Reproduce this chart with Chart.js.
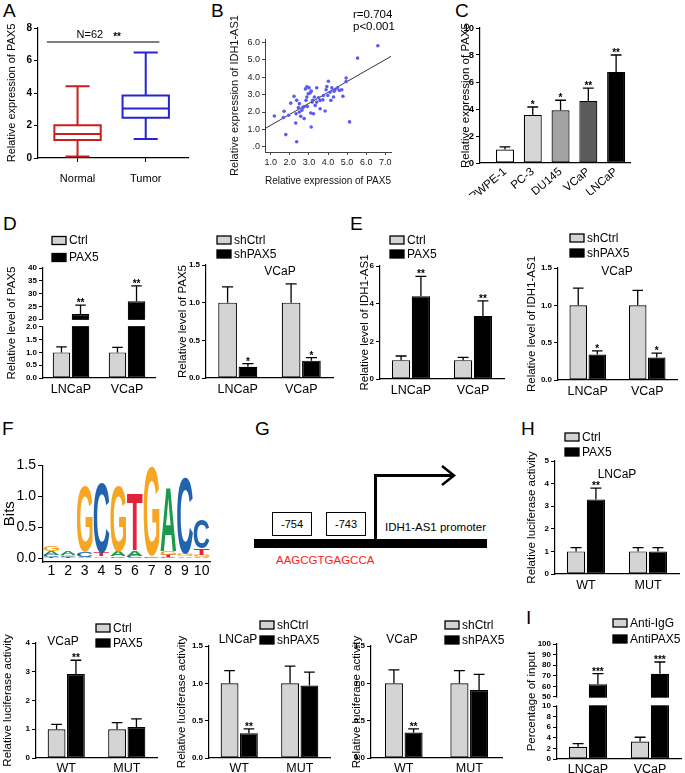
<!DOCTYPE html>
<html lang="en">
<head>
<meta charset="utf-8">
<title>PAX5 / IDH1-AS1</title>
<script src="https://cdn.jsdelivr.net/npm/chart.js@4.4.1/dist/chart.umd.min.js"></script>
<style>
  body { margin: 0; background: #fff; }
  #fig { position: relative; width: 685px; height: 773px; overflow: hidden;
         font-family: 'Liberation Sans', Arial, sans-serif; color: #000; }
  #fig canvas { position: absolute; }
  .tag { position: absolute; font-size: 19px; line-height: 19px; }
  .site { position: absolute; width: 38px; height: 22px; border: 1.5px solid #000;
          font-size: 11px; line-height: 22px; text-align: center; }
  .txt { position: absolute; font-size: 11.5px; line-height: 13px; white-space: nowrap; }
</style>
</head>
<body>
<div id="fig">
  <div class="tag" style="left:3px;top:1px">A</div>
  <div class="tag" style="left:211px;top:1px">B</div>
  <div class="tag" style="left:455px;top:1px">C</div>
  <div class="tag" style="left:3px;top:214px">D</div>
  <div class="tag" style="left:350px;top:214px">E</div>
  <div class="tag" style="left:2px;top:419px">F</div>
  <div class="tag" style="left:255px;top:419px">G</div>
  <div class="tag" style="left:521px;top:419px">H</div>
  <div class="tag" style="left:526px;top:608px">I</div>

  <canvas id="cA"></canvas>
  <canvas id="cB"></canvas>
  <canvas id="cC"></canvas>
  <canvas id="cD1"></canvas>
  <canvas id="cD2"></canvas>
  <canvas id="cE1"></canvas>
  <canvas id="cE2"></canvas>
  <canvas id="cF"></canvas>
  <canvas id="cH"></canvas>
  <canvas id="cL1"></canvas>
  <canvas id="cL2"></canvas>
  <canvas id="cL3"></canvas>
  <canvas id="cI"></canvas>

  <!-- G: promoter sketch -->
  <svg style="position:absolute;left:250px;top:460px" width="245" height="95">
    <rect x="4" y="79" width="233" height="9" fill="#000"/>
    <polyline points="125.5,80 125.5,15.5 204,15.5" fill="none" stroke="#000" stroke-width="3"/>
    <polyline points="192,6 204,15.5 192,25" fill="none" stroke="#000" stroke-width="2.5"/>
  </svg>
  <div class="site" style="left:272px;top:512px">-754</div>
  <div class="site" style="left:326px;top:512px">-743</div>
  <div class="txt" style="left:385px;top:521px">IDH1-AS1 promoter</div>
  <div class="txt" style="left:276px;top:554px;color:#ff1a1a">AAGCGTGAGCCA</div>
</div>

<script>
// ---------- data ----------

// A: PAX5 in normal vs tumour tissue (box plot)
const boxGroups = ['Normal', 'Tumor'];
const boxColors = ['#c81f1e', '#2424d2'];
const boxMin = [0.1, 1.17];
const boxQ1 = [1.11, 2.48];
const boxMedian = [1.48, 3.04];
const boxQ3 = [2.01, 3.84];
const boxMax = [4.41, 6.5];
const sampleSize = 62;
const bracketLevel = 7.14;
const aTicks = [0, 2, 4, 6, 8];

// B: correlation PAX5 vs IDH1-AS1
const pax5Expr = [6.61, 5.55, 4.95, 4.95, 5.13, 4.72, 4.78, 4.60, 4.32, 4.20, 4.11, 4.02, 3.94, 3.90, 3.99,
  4.15, 3.85, 3.73, 3.59, 3.50, 3.41, 3.29, 3.20, 3.17, 3.12, 3.06, 3.01, 2.96, 2.82, 2.85, 2.92, 3.10,
  3.24, 3.12, 2.75, 2.68, 2.63, 2.75, 2.57, 2.50, 2.45, 2.36, 2.22, 2.33, 2.31, 2.36, 2.05, 1.94, 1.70,
  1.66, 1.79, 1.19, 2.90, 3.59, 3.33, 4.29, 4.37, 3.76, 2.89, 2.50, 3.41, 4.50];
const idh1Expr = [5.81, 5.10, 3.96, 3.75, 1.43, 3.28, 2.91, 3.24, 3.20, 3.39, 3.14, 3.77, 3.47, 3.28, 2.95,
  2.67, 2.06, 2.70, 2.67, 2.82, 3.39, 2.86, 2.67, 2.57, 3.20, 3.09, 3.39, 3.05, 3.33, 2.67, 2.32, 1.94,
  1.90, 1.14, 2.32, 2.25, 2.10, 1.62, 1.75, 2.48, 2.25, 2.67, 2.90, 1.90, 1.37, 0.29, 2.51, 1.81, 2.04,
  1.68, 0.70, 1.77, 3.45, 2.19, 2.38, 2.86, 3.28, 2.95, 2.86, 2.00, 2.57, 3.39];
const fitX = [0.7, 7.3];
const fitY = [1.05, 5.2];
const bTicksX = [1, 2, 3, 4, 5, 6, 7];
const bTicksY = [0, 1, 2, 3, 4, 5, 6];

// C: PAX5 in cell lines
const cellLines = ['RWPE-1', 'PC-3', 'DU145', 'VCaP', 'LNCaP'];
const cellPax5 = [1.0, 3.55, 3.9, 4.6, 6.75];
const cellPax5Err = [1.2, 4.15, 4.65, 5.55, 8.0];
const cellStars = ['', '*', '*', '**', '**'];
const cellColors = ['#ffffff', '#d6d6d6', '#a3a3a3', '#5a5a5a', '#000000'];
const cTicks = [0, 2, 4, 6, 8, 10];

// D / E: two cell lines
const lines2 = ['LNCaP', 'VCaP'];
const dCtrl = [1.0, 1.0];
const dCtrlErr = [1.22, 1.2];
const dPax5 = [22, 27];
const dPax5Err = [25.5, 33];
const dTicks = [0, 0.5, 1, 1.5, 2, 20, 25, 30, 35, 40];
const dTickText = ['0.0', '0.5', '1.0', '1.5', '2.0', '20', '25', '30', '35', '40'];

const d2Ctrl = [1.0, 1.0];
const d2CtrlErr = [1.21, 1.25];
const d2Sh = [0.15, 0.23];
const d2ShErr = [0.19, 0.27];

const eCtrl = [1.0, 1.0];
const eCtrlErr = [1.22, 1.15];
const ePax5 = [4.4, 3.35];
const ePax5Err = [5.45, 4.15];
const eTicks = [0, 2, 4, 6];

const e2Ctrl = [1.0, 1.0];
const e2CtrlErr = [1.23, 1.2];
const e2Sh = [0.34, 0.3];
const e2ShErr = [0.39, 0.36];

const halfTicks = [0, 0.5, 1, 1.5];

// F: motif logo (letters bottom -> top, heights in bits)
const logoPos = ['1', '2', '3', '4', '5', '6', '7', '8', '9', '10'];
const logoLetters = [
  ['T', 'C', 'A', 'G'], ['T', 'C', 'G', 'A'], ['T', 'A', 'C', 'G'], ['A', 'G', 'T', 'C'], ['T', 'C', 'A', 'G'],
  ['G', 'C', 'A', 'T'], ['A', 'T', 'C', 'G'], ['C', 'T', 'G', 'A'], ['T', 'A', 'G', 'C'], ['A', 'G', 'T', 'C']
];
const logoBits = [
  [0.02, 0.03, 0.07, 0.08], [0.02, 0.02, 0.02, 0.06], [0.01, 0.01, 0.08, 1.07], [0.01, 0.02, 0.06, 1.13],
  [0.01, 0.02, 0.08, 1.06], [0.01, 0.03, 0.09, 0.92], [0.0, 0.01, 0.02, 1.45], [0.02, 0.04, 0.06, 1.02],
  [0.01, 0.02, 0.03, 1.24], [0.02, 0.04, 0.1, 0.47]
];
const logoColors = { A: '#1a9a4a', C: '#2164ad', G: '#f6a623', T: '#e2243b' };
const fTicks = [0, 0.5, 1, 1.5];

// H and luciferase row
const constructs = ['WT', 'MUT'];
const hCtrl = [1.0, 1.0];
const hCtrlErr = [1.17, 1.17];
const hPax5 = [3.3, 1.0];
const hPax5Err = [3.8, 1.17];
const hTicks = [0, 1, 2, 3, 4, 5];

const l1Ctrl = [1.0, 1.0];
const l1CtrlErr = [1.17, 1.23];
const l1Pax5 = [2.92, 1.08];
const l1Pax5Err = [3.4, 1.36];
const l1Ticks = [0, 1, 2, 3, 4];

const l2Ctrl = [1.0, 1.0];
const l2CtrlErr = [1.17, 1.23];
const l2Sh = [0.33, 0.97];
const l2ShErr = [0.39, 1.15];

const l3Ctrl = [1.0, 1.0];
const l3CtrlErr = [1.18, 1.17];
const l3Sh = [0.34, 0.91];
const l3ShErr = [0.39, 1.12];

// I: ChIP
const iIgG = [2.3, 3.3];
const iIgGErr = [2.9, 4.1];
const iPax5 = [62, 72];
const iPax5Err = [72, 83];
const iTicks = [0, 2, 4, 6, 8, 10, 50, 60, 70, 80, 90, 100];

// ---------- helpers ----------
const LS = "'Liberation Sans', Arial, sans-serif";
Chart.defaults.font.family = LS;
Chart.defaults.color = '#000';
Chart.defaults.animation = false;
Chart.defaults.events = [];

const GREY = '#d4d4d4';
const BLACK = '#000000';

// broken axes: lower part kept, upper part compressed
const fD = v => v <= 2 ? v : 2.3 + (v - 20) * 0.1;
const fI = v => v <= 10 ? v : 11.7 + (v - 50) * 0.2;

const deco = {
  id: 'deco',
  afterDatasetsDraw(chart, args, o) {
    const ctx = chart.ctx, y = chart.scales.y, a = chart.chartArea;
    const ox = o.ox || 0, oy = o.oy || 0;
    ctx.save();
    if (o.brk) {
      const top = y.getPixelForValue(o.brk[1]), bot = y.getPixelForValue(o.brk[0]);
      ctx.fillStyle = '#fff';
      ctx.fillRect(a.left - 2, top + 0.7, a.right - a.left + 4, bot - top - 1.4);
    }
    chart.data.datasets.forEach((ds, i) => {
      if (!ds.err) return;
      chart.getDatasetMeta(i).data.forEach((bar, j) => {
        const top = y.getPixelForValue(ds.err[j]);
        const cap = bar.width * 0.3;
        ctx.strokeStyle = '#000';
        ctx.lineWidth = 1.3;
        ctx.beginPath();
        ctx.moveTo(bar.x, bar.y);
        ctx.lineTo(bar.x, top);
        ctx.moveTo(bar.x - cap, top);
        ctx.lineTo(bar.x + cap, top);
        ctx.stroke();
        if (ds.stars && ds.stars[j]) {
          ctx.fillStyle = '#000';
          ctx.font = `bold 10px ${LS}`;
          ctx.textAlign = 'center';
          ctx.textBaseline = 'alphabetic';
          ctx.fillText(ds.stars[j], bar.x, top + 1);
        }
      });
    });
    if (o.key) {
      ctx.font = `12px ${LS}`;
      ctx.textAlign = 'left';
      ctx.textBaseline = 'middle';
      chart.data.datasets.forEach((ds, i) => {
        const bx = o.key.x - ox, by = o.key.y + i * o.key.gap - oy;
        ctx.fillStyle = ds.backgroundColor;
        ctx.fillRect(bx, by - 4, 14, 8);
        ctx.strokeStyle = '#000';
        ctx.lineWidth = 1.3;
        ctx.strokeRect(bx, by - 4, 14, 8);
        ctx.fillStyle = '#000';
        ctx.fillText(ds.label, bx + 17, by + 0.5);
      });
    }
    (o.notes || []).forEach(n => {
      ctx.font = `${n.size || 12}px ${LS}`;
      ctx.fillStyle = '#000';
      ctx.textAlign = n.align || 'center';
      ctx.textBaseline = 'middle';
      ctx.fillText(n.text, n.x - ox, n.y - oy);
    });
    ctx.restore();
  }
};
Chart.register(deco);

// put a chart so that its plot area lands on area = [x0, y0, x1, y1] (page px)
function place(id, box, area, config) {
  const cv = document.getElementById(id);
  const [l, t, w, h] = box;
  cv.width = w;
  cv.height = h;
  Object.assign(cv.style, { left: l + 'px', top: t + 'px', width: w + 'px', height: h + 'px' });
  const o = config.options;
  o.responsive = false;
  o.maintainAspectRatio = false;
  o.layout = { padding: { left: 0, top: area[1] - t, right: l + w - area[2], bottom: 0 } };
  o.scales.x.afterFit = s => { s.height = t + h - area[3]; };
  o.scales.y.afterFit = s => { s.width = area[0] - l; };
  o.plugins = o.plugins || {};
  o.plugins.legend = { display: false };
  o.plugins.tooltip = { enabled: false };
  o.plugins.deco = Object.assign({ ox: l, oy: t }, o.plugins.deco || {});
  return new Chart(cv, config);
}

function yLin(a) {
  return {
    type: 'linear', min: a.min, max: a.max,
    afterBuildTicks: s => { s.ticks = a.vals.map(v => ({ value: v })); },
    ticks: { autoSkip: false, callback: (v, i) => a.text[i], font: { size: a.fs || 8, weight: a.weight || 'bold' },
             padding: 2, color: '#000' },
    grid: { drawOnChartArea: false, tickLength: a.tl || 4, color: '#000', lineWidth: 1 },
    border: { color: '#000', width: 1.2 },
    title: { display: true, text: a.title, font: { size: a.tfs || 11.5 }, padding: 0, color: '#000' }
  };
}

function xCat(fs, pad) {
  return {
    type: 'category', offset: true,
    grid: { display: false, drawTicks: false },
    border: { color: '#000', width: 1.2 },
    ticks: { font: { size: fs }, padding: pad, color: '#000', autoSkip: false, maxRotation: 0 }
  };
}

function bars(id, box, area, cats, sets, yax, deco, shape) {
  shape = Object.assign({ cat: 0.64, bar: 0.92, xfs: 12.5, xpad: 4 }, shape);
  return place(id, box, area, {
    type: 'bar',
    data: {
      labels: cats,
      datasets: sets.map(s => ({
        label: s.label, data: s.data, err: s.err, stars: s.stars,
        backgroundColor: s.color, borderColor: '#000', borderWidth: 1.2, borderSkipped: false,
        categoryPercentage: shape.cat, barPercentage: shape.bar
      }))
    },
    options: {
      scales: { x: xCat(shape.xfs, shape.xpad), y: yLin(yax) },
      plugins: { deco }
    }
  });
}

// ---------- A: box plot ----------
const boxPlot = {
  id: 'boxPlot',
  afterDatasetsDraw(chart) {
    const { ctx, scales: { x, y } } = chart;
    ctx.save();
    ctx.lineWidth = 2;
    boxGroups.forEach((g, i) => {
      const cx = x.getPixelForValue(i + 1);
      const hw = x.getPixelForValue(i + 1.34) - cx;
      const cw = hw * 0.52;
      const [lo, q1, md, q3, hi] = [boxMin[i], boxQ1[i], boxMedian[i], boxQ3[i], boxMax[i]]
        .map(v => y.getPixelForValue(v));
      ctx.strokeStyle = boxColors[i];
      ctx.beginPath();
      ctx.rect(cx - hw, q3, hw * 2, q1 - q3);
      ctx.moveTo(cx - hw, md); ctx.lineTo(cx + hw, md);
      ctx.moveTo(cx, q3); ctx.lineTo(cx, hi);
      ctx.moveTo(cx, q1); ctx.lineTo(cx, lo);
      ctx.moveTo(cx - cw, hi); ctx.lineTo(cx + cw, hi);
      ctx.moveTo(cx - cw, lo); ctx.lineTo(cx + cw, lo);
      ctx.stroke();
    });
    const by = y.getPixelForValue(bracketLevel);
    ctx.strokeStyle = '#000';
    ctx.lineWidth = 1.2;
    ctx.beginPath();
    ctx.moveTo(x.getPixelForValue(0.55), by);
    ctx.lineTo(x.getPixelForValue(2.2), by);
    ctx.stroke();
    ctx.fillStyle = '#000';
    ctx.textAlign = 'center';
    ctx.textBaseline = 'alphabetic';
    ctx.font = `11px ${LS}`;
    ctx.fillText('N=' + sampleSize, x.getPixelForValue(1.18), by - 4);
    ctx.font = `bold 10px ${LS}`;
    ctx.fillText('**', x.getPixelForValue(1.58), by - 2);
    ctx.restore();
  }
};

place('cA', [5, 18, 200, 176], [38, 28, 188, 158], {
  type: 'scatter',
  data: { datasets: [{ data: boxMedian.map((m, i) => ({ x: i + 1, y: m })), pointRadius: 0 }] },
  options: {
    scales: {
      x: {
        type: 'linear', min: 0.42, max: 2.62,
        afterBuildTicks: s => { s.ticks = boxGroups.map((g, i) => ({ value: i + 1 })); },
        ticks: { callback: v => boxGroups[v - 1], font: { size: 11 }, padding: 10, color: '#000' },
        grid: { drawOnChartArea: false, tickLength: 4, color: '#000' },
        border: { color: '#000', width: 1.2 }
      },
      y: yLin({ min: 0, max: 8, vals: aTicks, text: aTicks.map(String), fs: 10, tfs: 11,
                title: 'Relative expression of PAX5' })
    }
  },
  plugins: [boxPlot]
});

// ---------- B: scatter ----------
function spss(min, max, vals, fmt, title) {
  return {
    type: 'linear', min, max,
    afterBuildTicks: s => { s.ticks = vals.map(v => ({ value: v })); },
    ticks: { callback: fmt, font: { size: 9 }, color: '#222', padding: 2, autoSkip: false },
    grid: { drawOnChartArea: false, tickLength: 3, color: '#444' },
    border: { color: '#444', width: 1 },
    title: { display: true, text: title, font: { size: 11 }, padding: 0, color: '#111' }
  };
}

place('cB', [228, 5, 170, 183], [265, 39, 391, 152], {
  type: 'scatter',
  data: {
    datasets: [
      { data: pax5Expr.map((v, i) => ({ x: v, y: idh1Expr[i] })), pointRadius: 1.8,
        pointBackgroundColor: '#5b5bf2', pointBorderWidth: 0 },
      { type: 'line', data: fitX.map((v, i) => ({ x: v, y: fitY[i] })), borderColor: '#333',
        borderWidth: 1, pointRadius: 0 }
    ]
  },
  options: {
    scales: {
      x: spss(0.7, 7.3, bTicksX, v => v.toFixed(1), 'Relative expression of PAX5'),
      y: spss(-0.3, 6.2, bTicksY, v => v === 0 ? '.0' : v.toFixed(1), 'Relative expression of IDH1-AS1')
    },
    plugins: { deco: { notes: [
      { text: 'r=0.704', x: 353, y: 15, align: 'left', size: 11.5 },
      { text: 'p<0.001', x: 353, y: 27, align: 'left', size: 11.5 }
    ] } }
  }
});

// ---------- C: cell lines ----------
place('cC', [459, 5, 200, 190], [480, 28, 630, 163], {
  type: 'bar',
  data: {
    datasets: [{
      data: cellPax5.map((v, i) => ({ x: i + 1, y: v })),
      err: cellPax5Err, stars: cellStars,
      backgroundColor: cellColors, borderColor: '#000', borderWidth: 1.2, borderSkipped: false,
      barPercentage: 0.9, categoryPercentage: 0.72
    }]
  },
  options: {
    scales: {
      x: {
        type: 'linear', offset: false, min: 0.1, max: 5.5,
        afterBuildTicks: s => { s.ticks = cellLines.map((c, i) => ({ value: i + 1 })); },
        ticks: { callback: v => cellLines[v - 1], autoSkip: false, minRotation: 40, maxRotation: 40,
                 font: { size: 11.5 }, padding: 2, color: '#000' },
        grid: { display: false, drawTicks: false },
        border: { color: '#000', width: 1.2 }
      },
      y: yLin({ min: 0, max: 10, vals: cTicks, text: cTicks.map(String), fs: 9.5,
                title: 'Relative expression of PAX5' })
    }
  }
});

// ---------- D ----------
bars('cD1', [5, 230, 165, 172], [43, 268, 155, 378], lines2, [
  { label: 'Ctrl', data: dCtrl, err: dCtrlErr, color: GREY },
  { label: 'PAX5', data: dPax5.map(fD), err: dPax5Err.map(fD), stars: ['**', '**'], color: BLACK }
], { min: 0, max: fD(40), vals: dTicks.map(fD), text: dTickText, title: 'Relative level of PAX5' },
{ key: { x: 52, y: 240.5, gap: 17 }, brk: [2, 2.3] }, { cat: 0.68 });

bars('cD2', [176, 230, 165, 172], [206, 265, 333, 378], lines2, [
  { label: 'shCtrl', data: d2Ctrl, err: d2CtrlErr, color: GREY },
  { label: 'shPAX5', data: d2Sh, err: d2ShErr, stars: ['*', '*'], color: BLACK }
], { min: 0, max: 1.5, vals: halfTicks, text: halfTicks.map(v => v.toFixed(1)), title: 'Relative level of PAX5' },
{ key: { x: 217, y: 240, gap: 14 }, notes: [{ text: 'VCaP', x: 280, y: 272 }] });

// ---------- E ----------
bars('cE1', [358, 230, 155, 172], [380, 266, 504, 379], lines2, [
  { label: 'Ctrl', data: eCtrl, err: eCtrlErr, color: GREY },
  { label: 'PAX5', data: ePax5, err: ePax5Err, stars: ['**', '**'], color: BLACK }
], { min: 0, max: 6, vals: eTicks, text: eTicks.map(String), title: 'Relative level of IDH1-AS1' },
{ key: { x: 390, y: 240, gap: 14 } });

bars('cE2', [525, 228, 160, 174], [558, 268, 677, 380], lines2, [
  { label: 'shCtrl', data: e2Ctrl, err: e2CtrlErr, color: GREY },
  { label: 'shPAX5', data: e2Sh, err: e2ShErr, stars: ['*', '*'], color: BLACK }
], { min: 0, max: 1.5, vals: halfTicks, text: halfTicks.map(v => v.toFixed(1)), title: 'Relative level of IDH1-AS1' },
{ key: { x: 570, y: 238, gap: 15 }, notes: [{ text: 'VCaP', x: 617, y: 272 }] });

// ---------- F: sequence logo ----------
const logoDraw = {
  id: 'logoDraw',
  afterDatasetsDraw(chart) {
    const ctx = chart.ctx;
    ctx.save();
    ctx.font = `bold 100px ${LS}`;
    ctx.textAlign = 'left';
    ctx.textBaseline = 'alphabetic';
    chart.data.datasets.forEach((ds, k) => {
      chart.getDatasetMeta(k).data.forEach((bar, j) => {
        const letter = logoLetters[j][k];
        const h = bar.base - bar.y;
        if (h < 0.4) return;
        const m = ctx.measureText(letter);
        const gw = m.actualBoundingBoxLeft + m.actualBoundingBoxRight;
        const gh = m.actualBoundingBoxAscent + m.actualBoundingBoxDescent;
        ctx.save();
        ctx.translate(bar.x - bar.width / 2, bar.y);
        ctx.scale(bar.width / gw, h / gh);
        ctx.fillStyle = logoColors[letter];
        ctx.fillText(letter, m.actualBoundingBoxLeft, m.actualBoundingBoxAscent);
        ctx.restore();
      });
    });
    ctx.restore();
  }
};

place('cF', [1, 455, 225, 130], [43, 465, 210, 562], {
  type: 'bar',
  data: {
    labels: logoPos,
    datasets: [0, 1, 2, 3].map(k => ({
      data: logoBits.map(b => b[k]), backgroundColor: 'rgba(0,0,0,0)', borderWidth: 0,
      barPercentage: 1, categoryPercentage: 0.94
    }))
  },
  options: {
    scales: {
      x: Object.assign(xCat(14, 1), { stacked: true }),
      y: Object.assign(yLin({ min: -0.06, max: 1.5, vals: fTicks, text: fTicks.map(v => v.toFixed(1)),
                              fs: 14, weight: 'normal', tl: 5, tfs: 15, title: 'Bits' }), { stacked: true })
    }
  },
  plugins: [logoDraw]
});

// ---------- H ----------
bars('cH', [525, 428, 160, 170], [555, 461, 679, 574], constructs, [
  { label: 'Ctrl', data: hCtrl, err: hCtrlErr, color: GREY },
  { label: 'PAX5', data: hPax5, err: hPax5Err, stars: ['**', ''], color: BLACK }
], { min: 0, max: 5, vals: hTicks, text: hTicks.map(String), title: 'Relative luciferase activity' },
{ key: { x: 565, y: 437, gap: 15 }, notes: [{ text: 'LNCaP', x: 617, y: 475 }] });

// ---------- luciferase row ----------
bars('cL1', [1, 615, 170, 158], [36, 643, 157, 758], constructs, [
  { label: 'Ctrl', data: l1Ctrl, err: l1CtrlErr, color: GREY },
  { label: 'PAX5', data: l1Pax5, err: l1Pax5Err, stars: ['**', ''], color: BLACK }
], { min: 0, max: 4, vals: l1Ticks, text: l1Ticks.map(String), title: 'Relative luciferase activity' },
{ key: { x: 96, y: 628, gap: 15 }, notes: [{ text: 'VCaP', x: 63, y: 642 }] }, { xpad: 3 });

bars('cL2', [175, 615, 170, 158], [209, 646, 330, 758], constructs, [
  { label: 'shCtrl', data: l2Ctrl, err: l2CtrlErr, color: GREY },
  { label: 'shPAX5', data: l2Sh, err: l2ShErr, stars: ['**', ''], color: BLACK }
], { min: 0, max: 1.5, vals: halfTicks, text: halfTicks.map(v => v.toFixed(1)), title: 'Relative luciferase activity' },
{ key: { x: 260, y: 625, gap: 15 }, notes: [{ text: 'LNCaP', x: 238, y: 640 }] }, { xpad: 3 });

bars('cL3', [350, 615, 170, 158], [371, 646, 502, 758], constructs, [
  { label: 'shCtrl', data: l3Ctrl, err: l3CtrlErr, color: GREY },
  { label: 'shPAX5', data: l3Sh, err: l3ShErr, stars: ['**', ''], color: BLACK }
], { min: 0, max: 1.5, vals: halfTicks, text: halfTicks.map(v => v.toFixed(1)), title: 'Relative luciferase activity' },
{ key: { x: 445, y: 625, gap: 15 }, notes: [{ text: 'VCaP', x: 402, y: 640 }] }, { xpad: 3, cat: 0.6 });

// ---------- I ----------
bars('cI', [525, 612, 160, 161], [557, 644, 681, 759], lines2, [
  { label: 'Anti-IgG', data: iIgG, err: iIgGErr, color: GREY },
  { label: 'AntiPAX5', data: iPax5.map(fI), err: iPax5Err.map(fI), stars: ['***', '***'], color: BLACK }
], { min: 0, max: fI(100), vals: iTicks.map(fI), text: iTicks.map(String), title: 'Percentage of input' },
{ key: { x: 613, y: 623, gap: 16 }, brk: [10, 11.7] }, { xpad: 3 });
</script>
</body>
</html>
